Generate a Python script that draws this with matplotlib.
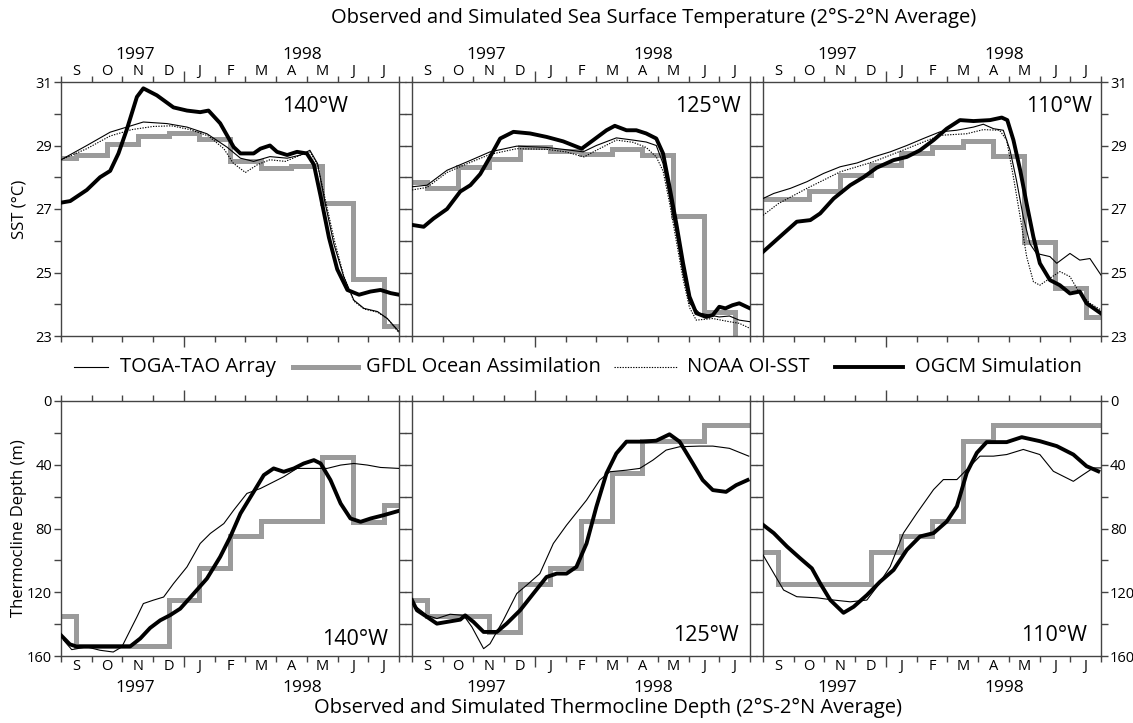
import numpy as np
import matplotlib
matplotlib.use("Agg")
import matplotlib.pyplot as plt
import matplotlib.transforms as mtransforms
from matplotlib.lines import Line2D

plt.rcParams['font.family'] = ['Open Sans', 'DejaVu Sans']

# axe x : mois depuis le 1er sept. 1997 (0 .. 11 = 1er aout 1998)
month_labels = ['S', 'O', 'N', 'D', 'J', 'F', 'M', 'A', 'M', 'J', 'J']
gfdl_t = list(range(12))  # moyennes mensuelles, marches a mi-mois
longitudes = ['140°W', '125°W', '110°W']

# ---- SST (degC) ----
sst140_toga = [(0, 28.55), (0.84, 29.0), (1.6, 29.42), (2.68, 29.74), (3.45, 29.69), (4.1, 29.58),
               (4.75, 29.37), (5.4, 28.95), (5.84, 28.6), (6.27, 28.5), (6.8, 28.65), (7.36, 28.6),
               (7.8, 28.7), (8.1, 28.85), (8.35, 28.43), (8.6, 27.17), (8.88, 25.9), (9.2, 24.87),
               (9.53, 24.13), (9.86, 23.87), (10.3, 23.77), (10.62, 23.55), (11, 23.14)]
sst140_noaa = [(0, 28.55), (0.84, 28.9), (1.6, 29.3), (2.3, 29.5), (3.0, 29.6), (3.6, 29.62), (4.2, 29.5),
               (4.8, 29.3), (5.3, 28.9), (5.6, 28.45), (6.0, 28.15), (6.4, 28.4), (6.8, 28.55), (7.3, 28.5),
               (7.8, 28.7), (8.1, 28.8), (8.35, 28.4), (8.6, 27.3), (8.9, 26.0), (9.2, 24.9), (9.53, 24.1),
               (9.86, 23.85), (10.3, 23.75), (10.62, 23.55), (11, 23.1)]
sst140_ogcm = [(0, 27.2), (0.3, 27.25), (0.84, 27.6), (1.27, 28.0), (1.6, 28.2), (1.87, 28.75), (2.14, 29.5),
               (2.47, 30.53), (2.68, 30.8), (3.12, 30.58), (3.66, 30.2), (4.1, 30.1), (4.53, 30.05),
               (4.8, 30.1), (5.18, 29.7), (5.62, 28.95), (5.84, 28.75), (6.27, 28.75), (6.49, 28.9),
               (6.8, 29.0), (7.03, 28.8), (7.36, 28.7), (7.68, 28.8), (8.0, 28.75), (8.23, 28.4),
               (8.45, 27.4), (8.72, 26.1), (8.99, 25.1), (9.32, 24.45), (9.7, 24.3), (10.07, 24.4),
               (10.4, 24.45), (10.73, 24.35), (11, 24.3)]
sst140_gfdl = [28.6, 28.7, 29.05, 29.3, 29.4, 29.2, 28.5, 28.3, 28.35, 27.2, 24.8, 23.3]

sst125_toga = [(0, 27.7), (0.49, 27.75), (1.14, 28.22), (1.78, 28.48), (2.54, 28.8), (3.41, 28.98),
               (4.38, 28.94), (5.0, 28.87), (5.57, 28.8), (6.0, 29.0), (6.65, 29.24), (7.2, 29.17),
               (7.62, 29.11), (7.95, 29.0), (8.17, 28.43), (8.38, 27.38), (8.6, 26.23), (8.82, 24.97),
               (9.03, 24.03), (9.36, 23.72), (9.68, 23.66), (10.0, 23.6), (10.33, 23.63), (10.65, 23.5),
               (11, 23.45)]
sst125_noaa = [(0, 27.6), (0.49, 27.68), (1.14, 28.15), (1.78, 28.42), (2.54, 28.72), (3.41, 28.9),
               (4.38, 28.88), (5.0, 28.8), (5.6, 28.64), (6.0, 28.85), (6.65, 29.17), (7.2, 29.1),
               (7.62, 28.94), (7.95, 28.64), (8.17, 28.2), (8.38, 27.2), (8.6, 26.0), (8.82, 24.8),
               (9.03, 23.9), (9.25, 23.5), (9.79, 23.55), (10.33, 23.45), (10.65, 23.4), (11, 23.24)]
sst125_ogcm = [(0, 26.5), (0.38, 26.44), (0.7, 26.7), (1.14, 27.0), (1.57, 27.55), (1.9, 27.75), (2.22, 28.1),
               (2.54, 28.64), (2.87, 29.22), (3.3, 29.43), (3.84, 29.38), (4.38, 29.27), (4.92, 29.13),
               (5.52, 28.9), (5.9, 29.17), (6.33, 29.48), (6.6, 29.62), (6.98, 29.48), (7.3, 29.48),
               (7.62, 29.38), (7.95, 29.22), (8.17, 28.75), (8.38, 27.7), (8.6, 26.55), (8.82, 25.3),
               (9.03, 24.24), (9.25, 23.72), (9.57, 23.6), (9.79, 23.66), (10.0, 23.92), (10.2, 23.87),
               (10.43, 23.97), (10.65, 24.03), (11, 23.87)]
sst125_gfdl = [27.85, 27.67, 28.33, 28.59, 28.94, 28.83, 28.72, 28.9, 28.69, 26.79, 23.77, 22.5]

sst110_toga = [(0, 27.33), (0.35, 27.49), (0.89, 27.65), (1.43, 27.86), (1.97, 28.12), (2.51, 28.33),
               (3.06, 28.45), (3.6, 28.64), (4.14, 28.8), (4.68, 29.0), (5.22, 29.22), (5.76, 29.43),
               (6.3, 29.48), (6.85, 29.58), (7.17, 29.67), (7.5, 29.53), (7.82, 29.48), (8.04, 28.85),
               (8.25, 27.9), (8.47, 26.75), (8.69, 25.9), (8.9, 25.6), (9.12, 25.55), (9.34, 25.5),
               (9.56, 25.29), (9.99, 25.6), (10.31, 25.39), (10.64, 25.44), (11, 24.92)]
sst110_noaa = [(0, 26.8), (0.5, 27.17), (1.43, 27.65), (2.51, 28.17), (3.6, 28.49), (4.68, 28.9),
               (5.76, 29.32), (6.63, 29.37), (7.17, 29.5), (7.7, 29.48), (7.93, 29.17), (8.15, 28.0),
               (8.37, 26.75), (8.58, 25.5), (8.8, 24.71), (9.01, 24.6), (9.34, 24.82), (9.66, 25.03),
               (9.99, 24.87), (10.31, 24.34), (10.64, 24.03), (11, 23.82)]
sst110_ogcm = [(0, 25.65), (0.67, 26.23), (1.1, 26.6), (1.54, 26.65), (1.86, 26.86), (2.3, 27.33),
               (2.84, 27.75), (3.27, 28.0), (3.7, 28.3), (4.25, 28.54), (4.68, 28.64), (5.11, 28.85),
               (5.55, 29.17), (5.98, 29.53), (6.41, 29.8), (6.85, 29.77), (7.39, 29.8), (7.77, 29.88),
               (7.95, 29.8), (8.15, 29.17), (8.37, 28.22), (8.58, 27.17), (8.8, 26.12), (9.01, 25.29),
               (9.34, 24.76), (9.66, 24.6), (9.99, 24.34), (10.31, 24.4), (10.53, 24.03), (11, 23.71)]
sst110_gfdl = [27.3, 27.3, 27.57, 28.07, 28.4, 28.75, 28.95, 29.13, 28.66, 25.95, 24.52, 23.6]

# ---- profondeur de la thermocline (m) ----
z140_toga = [(0.08, 150), (0.35, 156), (0.84, 154.3), (1.27, 156.4), (1.7, 157.5), (1.98, 154.3),
             (2.25, 143.9), (2.47, 135.5), (2.68, 127.1), (3.0, 125), (3.34, 123), (3.66, 114.6),
             (4.1, 104.1), (4.53, 89.4), (4.86, 83.1), (5.3, 76.9), (5.62, 68.5), (6.05, 58),
             (6.49, 54.9), (6.82, 51.7), (7.25, 47.5), (7.68, 42.3), (8.23, 42.3), (8.66, 42.3),
             (9.1, 40.2), (9.53, 39.2), (9.97, 40.2), (10.4, 41.7), (11, 42.3)]
z140_ogcm = [(0, 147), (0.29, 152.7), (0.5, 154), (1.27, 154), (2.25, 154), (2.58, 149), (2.9, 142.4),
             (3.23, 137.6), (3.55, 134.4), (3.88, 130.3), (4.32, 120.8), (4.75, 111.4), (5.18, 97.8),
             (5.51, 85.2), (5.84, 70.6), (6.27, 57), (6.6, 46.5), (6.92, 42.3), (7.25, 44.4),
             (7.58, 42.3), (7.9, 39.2), (8.23, 37.1), (8.45, 39.2), (8.77, 49.6), (9.1, 64.3),
             (9.42, 73.7), (9.75, 75.8), (10.08, 73.7), (10.51, 71.6), (11, 68.9)]
z140_gfdl = [135, 154, 154, 154, 125, 105, 85, 75, 75, 35, 76, 65]

z125_toga = [(0, 127), (0.49, 134.5), (0.81, 136.5), (1.24, 133.8), (1.68, 134.5), (1.95, 141.8),
             (2.33, 155.4), (2.54, 152.3), (2.97, 137.6), (3.41, 120.8), (3.73, 115.6), (4.16, 108.3),
             (4.6, 89.4), (5.03, 77.9), (5.68, 62.2), (6.11, 49.6), (6.44, 44.4), (6.98, 43.4),
             (7.41, 42.3), (7.84, 37.1), (8.27, 30.8), (8.71, 28.7), (9.36, 28.3), (9.79, 28.3),
             (10.33, 29.7), (10.96, 34.6)]
z125_ogcm = [(0, 125), (0.16, 131.3), (0.49, 135.5), (0.81, 139.7), (1.14, 138.6), (1.57, 137.2),
             (1.73, 134.5), (2.0, 138.6), (2.33, 144.9), (2.76, 144.9), (3.08, 139.7), (3.52, 131.3),
             (3.95, 120.8), (4.38, 110.4), (4.71, 108.3), (5.03, 108.3), (5.35, 104.1), (5.68, 89.4),
             (6.0, 66.4), (6.33, 45.4), (6.65, 32.9), (6.98, 25.5), (7.52, 25.5), (7.95, 24.9),
             (8.38, 20.9), (8.71, 25.5), (9.14, 39.2), (9.46, 49.6), (9.79, 55.9), (10.22, 57),
             (10.55, 52.8), (10.92, 49.6)]
z125_gfdl = [125, 135, 135, 145, 115, 105, 75, 45, 25, 25, 15, 15]

z110_toga = [(0, 96.6), (0.35, 108.1), (0.67, 118.6), (1.1, 122.8), (1.76, 123.5), (2.3, 124.9),
             (2.84, 126), (3.38, 124.9), (3.71, 116.5), (4.14, 103.9), (4.57, 82.9), (5.01, 70.3),
             (5.55, 55.6), (5.87, 49.3), (6.31, 49.3), (6.74, 40.9), (7.06, 34.6), (7.5, 34.6),
             (7.93, 33.6), (8.47, 30.4), (9.01, 33.6), (9.45, 44.1), (10.1, 50.4), (10.42, 46.2),
             (10.75, 42), (11, 42)]
z110_ogcm = [(0, 77.7), (0.35, 82.9), (0.78, 91.3), (1.21, 98.7), (1.59, 105), (1.86, 114.4),
             (2.19, 124.9), (2.62, 132.9), (2.95, 129.1), (3.38, 121.8), (3.81, 113.4), (4.25, 106),
             (4.68, 93.4), (5.11, 85), (5.55, 82.9), (5.98, 75.6), (6.31, 66.1), (6.63, 45.1),
             (6.96, 32.5), (7.28, 25.8), (7.93, 25.8), (8.42, 22.7), (9.01, 25.2), (9.56, 28.3),
             (10.1, 33.6), (10.53, 40.9), (10.91, 44.1)]
z110_gfdl = [95, 115, 115, 115, 95, 85, 75, 25, 15, 15, 15, 15]

sst_sets = [(sst140_toga, sst140_noaa, sst140_ogcm, sst140_gfdl),
            (sst125_toga, sst125_noaa, sst125_ogcm, sst125_gfdl),
            (sst110_toga, sst110_noaa, sst110_ogcm, sst110_gfdl)]
z_sets = [(z140_toga, None, z140_ogcm, z140_gfdl),
          (z125_toga, None, z125_ogcm, z125_gfdl),
          (z110_toga, None, z110_ogcm, z110_gfdl)]

GREY = '#9b9b9b'
SPINE = '#444444'
DOTS = (0, (1.2, 1.2))

fig = plt.figure(figsize=(11.33, 7.23), dpi=100)
W, H = 1133, 723
lefts = [61 / W, 412 / W, 763 / W]
w = 338 / W


def draw_series(ax, sets):
    toga, noaa, ogcm, gfdl = sets
    ax.step(gfdl_t, gfdl, where='mid', color=GREY, lw=3.6, solid_joinstyle='miter', zorder=2)
    t, v = zip(*toga)
    ax.plot(t, v, color='black', lw=0.8, zorder=3)
    if noaa is not None:
        t, v = zip(*noaa)
        ax.plot(t, v, color='black', lw=0.8, ls=DOTS, zorder=3)
    t, v = zip(*ogcm)
    ax.plot(t, v, color='black', lw=2.8, zorder=4)


def style_axis(ax, top_row, col):
    ax.set_xlim(0, 11)
    for s in ax.spines.values():
        s.set_color(SPINE)
        s.set_linewidth(1.0)
    ax.set_xticks(range(12))
    ax.set_xticks(np.arange(11) + 0.5, minor=True)
    ax.set_xticklabels([''] * 12)
    ax.set_xticklabels(month_labels, minor=True, fontsize=10.5)
    ax.tick_params(axis='x', which='major', direction='out', length=4, width=1,
                   color=SPINE, top=True, bottom=True)
    ax.tick_params(axis='x', which='minor', length=0, pad=2,
                   top=top_row, bottom=not top_row,
                   labeltop=top_row, labelbottom=not top_row)
    # tick de janvier plus long
    jt = ax.xaxis.get_major_ticks()[4]
    jt.tick1line.set_markersize(8)
    jt.tick2line.set_markersize(8)
    ax.tick_params(axis='y', which='both', direction='out', length=5, width=1,
                   color=SPINE, left=True, right=True,
                   labelleft=(col == 0), labelright=(col == 2), labelsize=10.5, pad=1.5)
    trans = mtransforms.blended_transform_factory(ax.transData, ax.transAxes)
    yy = 1.105 if top_row else -0.125
    ax.text(2.4, yy, '1997', transform=trans, ha='center', va='center', fontsize=12.5)
    ax.text(7.85, yy, '1998', transform=trans, ha='center', va='center', fontsize=12.5)


for col in range(3):
    ax = fig.add_axes([lefts[col], 1 - 336 / H, w, 254 / H])
    draw_series(ax, sst_sets[col])
    style_axis(ax, True, col)
    ax.set_ylim(23, 31)
    ax.set_yticks([23, 25, 27, 29, 31])
    ax.set_yticks([24, 26, 28, 30], minor=True)
    lx = 0.85 if col == 0 else 0.973
    ax.text(lx, 0.905, longitudes[col], transform=ax.transAxes, ha='right', va='center', fontsize=15.5)

    ax = fig.add_axes([lefts[col], 1 - 656 / H, w, 255 / H])
    draw_series(ax, z_sets[col])
    style_axis(ax, False, col)
    ax.set_ylim(160, 0)
    ax.set_yticks([0, 40, 80, 120, 160])
    ax.set_yticks([20, 60, 100, 140], minor=True)
    ly = 0.065 if col == 0 else 0.08
    lx = 0.967 if col < 2 else 0.958
    ax.text(lx, ly, longitudes[col], transform=ax.transAxes, ha='right', va='center', fontsize=15.5)

fig.text(654 / W, 1 - 18 / H, 'Observed and Simulated Sea Surface Temperature (2°S-2°N Average)',
         ha='center', va='center', fontsize=14.5)
fig.text(608 / W, 1 - 708 / H, 'Observed and Simulated Thermocline Depth (2°S-2°N Average)',
         ha='center', va='center', fontsize=14.5)
fig.text(19 / W, 1 - 209 / H, 'SST (°C)', rotation=90, ha='center', va='center', fontsize=12)
fig.text(19 / W, 1 - 528 / H, 'Thermocline Depth (m)', rotation=90, ha='center', va='center', fontsize=12)

# legende manuelle (longueurs de trait differentes comme l'original)
leg_labels = ['TOGA-TAO Array', 'GFDL Ocean Assimilation', 'NOAA OI-SST', 'OGCM Simulation']
leg_styles = [dict(color='black', lw=0.8), dict(color=GREY, lw=3.6),
              dict(color='black', lw=0.8, ls=DOTS), dict(color='black', lw=2.8)]
leg_lines = [(74, 108), (293, 358), (614, 677), (835, 903)]
leg_text_x = [120, 366, 687, 915]
ly = 1 - 367 / H
for (x0, x1), st, tx, lab in zip(leg_lines, leg_styles, leg_text_x, leg_labels):
    fig.add_artist(Line2D([x0 / W, x1 / W], [ly, ly], transform=fig.transFigure, **st))
    fig.text(tx / W, ly, lab, ha='left', va='center', fontsize=14.5)

fig.savefig('out.png', dpi=100)
